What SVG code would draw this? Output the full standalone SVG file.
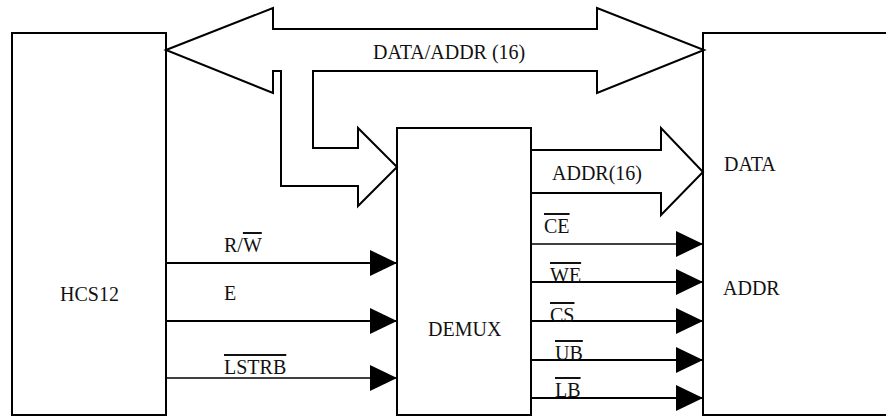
<svg xmlns="http://www.w3.org/2000/svg" width="886" height="417" viewBox="0 0 886 417">
<style>
.box{fill:#fff;stroke:#000;stroke-width:2}
.bus{fill:#fff;stroke:#000;stroke-width:2;stroke-linejoin:miter}
.sig{stroke:#000;stroke-width:2;fill:none}
.sigt{stroke:#000;stroke-width:1.5;fill:none}
.t{font-family:Liberation Serif,Tinos,Times New Roman,Noto Serif,DejaVu Serif,serif;font-size:20px;fill:#111}
.ol{text-decoration:overline}
</style>
<defs>
<marker id="ah" markerUnits="userSpaceOnUse" markerWidth="28" markerHeight="28" refX="27" refY="13" orient="auto" viewBox="0 0 28 28">
<path d="M0,0 L27,13 L0,26 Z" fill="#000"/>
</marker>
</defs>
<rect width="886" height="417" fill="#fff"/>
<g id="hcs12">
<rect class="box" x="12" y="33" width="154" height="382"/>
<text class="t" font-family="Liberation Serif" x="60" y="301">HCS12</text>
</g>
<g id="demux">
<rect class="box" x="397" y="128" width="134" height="287"/>
<text class="t" font-family="Liberation Serif" x="428" y="336">DEMUX</text>
</g>
<g id="memory">
<rect class="box" x="703" y="33" width="200" height="382"/>
<text class="t" font-family="Liberation Serif" x="724" y="171">DATA</text>
<text class="t" font-family="Liberation Serif" x="723" y="295">ADDR</text>
</g>
<g id="connectors">
<polygon class="bus" points="166,50 273,8 273,29 597,29 597,8 704,50 597,93 597,71 313,71 313,148 358,148 358,128 397,167 358,206 358,186 281,186 281,71 273,71 273,93"/>
<text class="t" font-family="Liberation Serif" x="373" y="59">DATA/ADDR (16)</text>
<polygon class="bus" points="531,150 661,150 661,128 703,172 661,215 661,193 531,193"/>
<text class="t" font-family="Liberation Serif" x="552" y="180">ADDR(16)</text>
<line class="sig" x1="166" y1="263" x2="397" y2="263" marker-end="url(#ah)"/>
<text class="t" font-family="Liberation Serif" x="224" y="252">R/<tspan class="ol">W</tspan></text>
<line class="sig" x1="166" y1="321" x2="397" y2="321" marker-end="url(#ah)"/>
<text class="t" font-family="Liberation Serif" x="224" y="300">E</text>
<line class="sigt" x1="166" y1="378" x2="397" y2="378" marker-end="url(#ah)"/>
<text class="t ol" font-family="Liberation Serif" x="224" y="374">LSTRB</text>
<line class="sigt" x1="531" y1="244" x2="703" y2="244" marker-end="url(#ah)"/>
<text class="t ol" font-family="Liberation Serif" x="544" y="233">CE</text>
<line class="sig" x1="531" y1="282" x2="703" y2="282" marker-end="url(#ah)"/>
<text class="t ol" font-family="Liberation Serif" x="550" y="282">WE</text>
<line class="sig" x1="531" y1="321" x2="703" y2="321" marker-end="url(#ah)"/>
<text class="t ol" font-family="Liberation Serif" x="550" y="322">CS</text>
<line class="sig" x1="531" y1="360" x2="703" y2="360" marker-end="url(#ah)"/>
<text class="t ol" font-family="Liberation Serif" x="555" y="360">UB</text>
<line class="sig" x1="531" y1="398" x2="703" y2="398" marker-end="url(#ah)"/>
<text class="t ol" font-family="Liberation Serif" x="555" y="397">LB</text>
</g>
</svg>
